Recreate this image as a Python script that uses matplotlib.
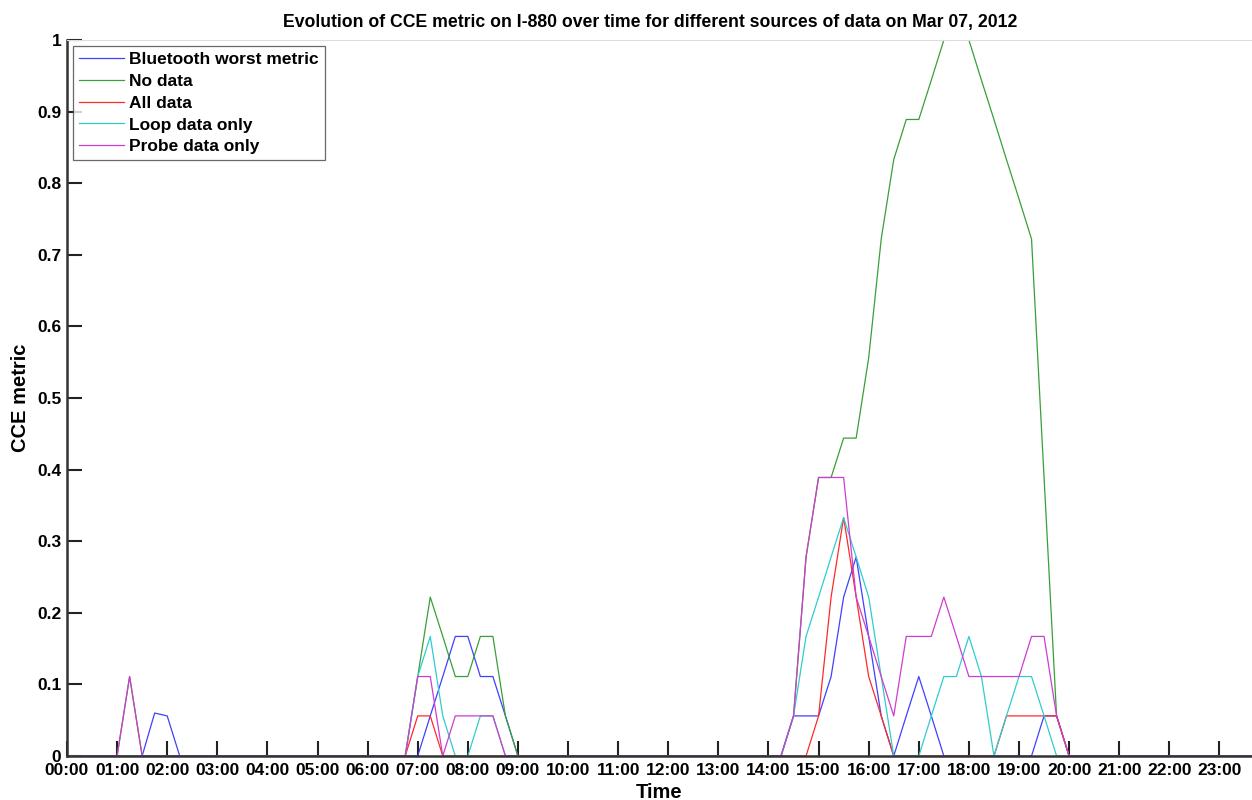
import numpy as np
import matplotlib
matplotlib.use("Agg")
import matplotlib.pyplot as plt

plt.rcParams['font.family'] = ['Liberation Sans', 'DejaVu Sans']
plt.rcParams['font.weight'] = 'bold'

# 15 minute samples, 00:00 .. 23:45 (one row = 2 hours)
times = np.arange(96) * 0.25

bluetooth = [
    0, 0, 0, 0, 0, 0, 0, 0.06,
    0.056, 0, 0, 0, 0, 0, 0, 0,
    0, 0, 0, 0, 0, 0, 0, 0,
    0, 0, 0, 0, 0, 0.056, 0.111, 0.167,
    0.167, 0.111, 0.111, 0.056, 0, 0, 0, 0,
    0, 0, 0, 0, 0, 0, 0, 0,
    0, 0, 0, 0, 0, 0, 0, 0,
    0, 0, 0.056, 0.056, 0.056, 0.111, 0.222, 0.278,
    0.167, 0.056, 0, 0.056, 0.111, 0.056, 0, 0,
    0, 0, 0, 0, 0, 0, 0.056, 0.056,
    0, 0, 0, 0, 0, 0, 0, 0,
    0, 0, 0, 0, 0, 0, 0, 0,
]
no_data = [
    0, 0, 0, 0, 0, 0.111, 0, 0,
    0, 0, 0, 0, 0, 0, 0, 0,
    0, 0, 0, 0, 0, 0, 0, 0,
    0, 0, 0, 0, 0.111, 0.222, 0.167, 0.111,
    0.111, 0.167, 0.167, 0.056, 0, 0, 0, 0,
    0, 0, 0, 0, 0, 0, 0, 0,
    0, 0, 0, 0, 0, 0, 0, 0,
    0, 0, 0.056, 0.278, 0.389, 0.389, 0.444, 0.444,
    0.556, 0.722, 0.833, 0.889, 0.889, 0.944, 1.0, 1.0,
    1.0, 0.944, 0.889, 0.833, 0.778, 0.722, 0.389, 0.056,
    0, 0, 0, 0, 0, 0, 0, 0,
    0, 0, 0, 0, 0, 0, 0, 0,
]
all_data = [
    0, 0, 0, 0, 0, 0, 0, 0,
    0, 0, 0, 0, 0, 0, 0, 0,
    0, 0, 0, 0, 0, 0, 0, 0,
    0, 0, 0, 0, 0.056, 0.056, 0, 0,
    0, 0, 0, 0, 0, 0, 0, 0,
    0, 0, 0, 0, 0, 0, 0, 0,
    0, 0, 0, 0, 0, 0, 0, 0,
    0, 0, 0, 0, 0.056, 0.222, 0.333, 0.222,
    0.111, 0.056, 0, 0, 0, 0, 0, 0,
    0, 0, 0, 0.056, 0.056, 0.056, 0.056, 0.056,
    0, 0, 0, 0, 0, 0, 0, 0,
    0, 0, 0, 0, 0, 0, 0, 0,
]
loop_only = [
    0, 0, 0, 0, 0, 0, 0, 0,
    0, 0, 0, 0, 0, 0, 0, 0,
    0, 0, 0, 0, 0, 0, 0, 0,
    0, 0, 0, 0, 0.111, 0.167, 0.056, 0,
    0, 0.056, 0.056, 0, 0, 0, 0, 0,
    0, 0, 0, 0, 0, 0, 0, 0,
    0, 0, 0, 0, 0, 0, 0, 0,
    0, 0, 0.056, 0.167, 0.222, 0.278, 0.333, 0.278,
    0.222, 0.111, 0, 0, 0, 0.056, 0.111, 0.111,
    0.167, 0.111, 0, 0.056, 0.111, 0.111, 0.056, 0,
    0, 0, 0, 0, 0, 0, 0, 0,
    0, 0, 0, 0, 0, 0, 0, 0,
]
probe_only = [
    0, 0, 0, 0, 0, 0.111, 0, 0,
    0, 0, 0, 0, 0, 0, 0, 0,
    0, 0, 0, 0, 0, 0, 0, 0,
    0, 0, 0, 0, 0.111, 0.111, 0, 0.056,
    0.056, 0.056, 0.056, 0, 0, 0, 0, 0,
    0, 0, 0, 0, 0, 0, 0, 0,
    0, 0, 0, 0, 0, 0, 0, 0,
    0, 0, 0.056, 0.278, 0.389, 0.389, 0.389, 0.222,
    0.167, 0.111, 0.056, 0.167, 0.167, 0.167, 0.222, 0.167,
    0.111, 0.111, 0.111, 0.111, 0.111, 0.167, 0.167, 0.056,
    0, 0, 0, 0, 0, 0, 0, 0,
    0, 0, 0, 0, 0, 0, 0, 0,
]

series = [
    ("Bluetooth worst metric", bluetooth, "#4040ff"),
    ("No data", no_data, "#38a038"),
    ("All data", all_data, "#ff2a2a"),
    ("Loop data only", loop_only, "#30cccc"),
    ("Probe data only", probe_only, "#d03cd0"),
]
hour_labels = ["%02d:00" % h for h in range(24)]

fig = plt.figure(figsize=(12.52, 8), dpi=100)
ax = fig.add_axes([0.0535, 0.055, 0.9465, 0.895])

for name, vals, col in series:
    ax.plot(times, vals, color=col, lw=0.9, label=name)

ax.set_xlim(0, 23.65)
ax.set_ylim(0, 1)
ax.set_xticks(range(24))
ax.set_xticklabels(hour_labels, fontsize=12.5, fontweight='bold')
ax.set_yticks(np.arange(0, 1.01, 0.1))
ax.set_yticklabels(["0", "0.1", "0.2", "0.3", "0.4", "0.5", "0.6", "0.7", "0.8", "0.9", "1"],
                   fontsize=12.5, fontweight='bold')
ax.tick_params(direction='in', length=11, width=1.5, color='#222222')
ax.tick_params(axis='x', pad=5)
ax.tick_params(axis='y', pad=4)

for s in ['left', 'bottom']:
    ax.spines[s].set_linewidth(1.8)
    ax.spines[s].set_color('#333333')
ax.spines['top'].set_color('#dddddd')
ax.spines['top'].set_linewidth(0.8)
ax.spines['right'].set_visible(False)

ax.set_xlabel("Time", fontsize=14.5, fontweight='bold', labelpad=4)
ax.set_ylabel("CCE metric", fontsize=14.5, fontweight='bold', labelpad=5)
ax.set_title("Evolution of CCE metric on I-880 over time for different sources of data on Mar 07, 2012",
             fontsize=12.7, fontweight='bold', pad=9, x=0.492)

leg = ax.legend(loc='upper left', fontsize=12.5, frameon=True, fancybox=False,
                handlelength=2.6, handletextpad=0.3, labelspacing=0.38,
                borderpad=0.35, borderaxespad=0.35)
leg.get_frame().set_edgecolor('#444444')
leg.get_frame().set_linewidth(0.9)

fig.savefig("out.png", dpi=100)
